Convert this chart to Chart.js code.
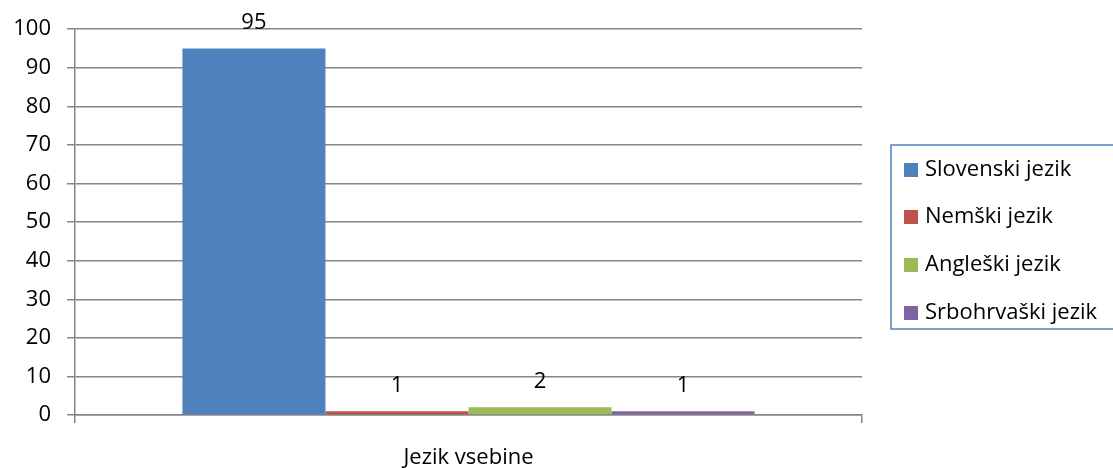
<!DOCTYPE html>
<html>
<head>
<meta charset="utf-8">
<script src="https://cdn.jsdelivr.net/npm/chart.js@4.4.1/dist/chart.umd.min.js"></script>
<style>
  html, body { margin: 0; padding: 0; background: #ffffff; }
  #wrap { width: 1113px; height: 468px; position: relative; }
</style>
</head>
<body>
<div id="wrap"><canvas id="c" width="1113" height="468"></canvas></div>
<script>
// Data
const categories = ['Jezik vsebine'];
const seriesNames = ['Slovenski jezik', 'Nemški jezik', 'Angleški jezik', 'Srbohrvaški jezik'];
const slovenski = [95];
const nemski = [1];
const angleski = [2];
const srbohrvaski = [1];
const yTicks = [0, 10, 20, 30, 40, 50, 60, 70, 80, 90, 100];

const colors = ['#4F81BD', '#C0504D', '#9BBB59', '#8064A2'];
const FONT = '"Open Sans", "DejaVu Sans", sans-serif';
const FONT_SIZE = 22;

const seriesValues = [slovenski, nemski, angleski, srbohrvaski];
const datasets = seriesNames.map((name, i) => ({
  label: name,
  data: seriesValues[i],
  backgroundColor: colors[i],
  borderWidth: 0,
  barPercentage: 1.0,
  categoryPercentage: 0.727
}));

// Value labels above each bar
const valueLabels = {
  id: 'valueLabels',
  afterDatasetsDraw(chart) {
    const ctx = chart.ctx;
    ctx.save();
    ctx.font = FONT_SIZE + 'px ' + FONT;
    ctx.fillStyle = '#000000';
    ctx.textAlign = 'center';
    ctx.textBaseline = 'alphabetic';
    chart.data.datasets.forEach((ds, di) => {
      const meta = chart.getDatasetMeta(di);
      meta.data.forEach((bar, idx) => {
        ctx.fillText(String(ds.data[idx]), bar.x, bar.y - 19);
      });
    });
    ctx.restore();
  }
};

// Boxed legend to the right of the plot
const boxedLegend = {
  id: 'boxedLegend',
  afterDraw(chart) {
    const ctx = chart.ctx;
    const left = 891, top = 145, bottom = 329, right = 1125;
    ctx.save();
    ctx.strokeStyle = '#4F81BD';
    ctx.lineWidth = 1.5;
    ctx.strokeRect(left, top, right - left, bottom - top);
    ctx.font = FONT_SIZE + 'px ' + FONT;
    ctx.textAlign = 'left';
    ctx.textBaseline = 'middle';
    const rows = [170, 217, 265, 313];
    chart.data.datasets.forEach((ds, i) => {
      const y = rows[i];
      ctx.fillStyle = ds.backgroundColor;
      ctx.fillRect(904, y - 7, 14, 14);
      ctx.fillStyle = '#000000';
      ctx.fillText(ds.label, 925, y);
    });
    ctx.restore();
  }
};

new Chart(document.getElementById('c'), {
  type: 'bar',
  data: { labels: categories, datasets },
  options: {
    responsive: false,
    animation: false,
    events: [],
    layout: { padding: { left: 0, right: 251, top: 27, bottom: 0 } },
    plugins: {
      legend: { display: false },
      tooltip: { enabled: false }
    },
    scales: {
      x: {
        afterFit(s) { s.height = 53; },
        grid: {
          offset: true,
          drawOnChartArea: false,
          drawTicks: true,
          tickLength: 8,
          color: '#868686',
          lineWidth: 1.5
        },
        border: { display: true, color: '#868686', width: 1.5 },
        ticks: {
          color: '#000000',
          font: { family: FONT, size: FONT_SIZE },
          padding: 22
        }
      },
      y: {
        min: 0,
        max: 100,
        afterFit(s) { s.width = 75; },
        afterBuildTicks(s) { s.ticks = yTicks.map(v => ({ value: v })); },
        grid: {
          drawOnChartArea: true,
          drawTicks: true,
          tickLength: 8,
          color: '#868686',
          lineWidth: 1.5
        },
        border: { display: true, color: '#868686', width: 1.5 },
        ticks: {
          color: '#000000',
          font: { family: FONT, size: FONT_SIZE },
          padding: 16
        }
      }
    }
  },
  plugins: [valueLabels, boxedLegend]
});
</script>
</body>
</html>
